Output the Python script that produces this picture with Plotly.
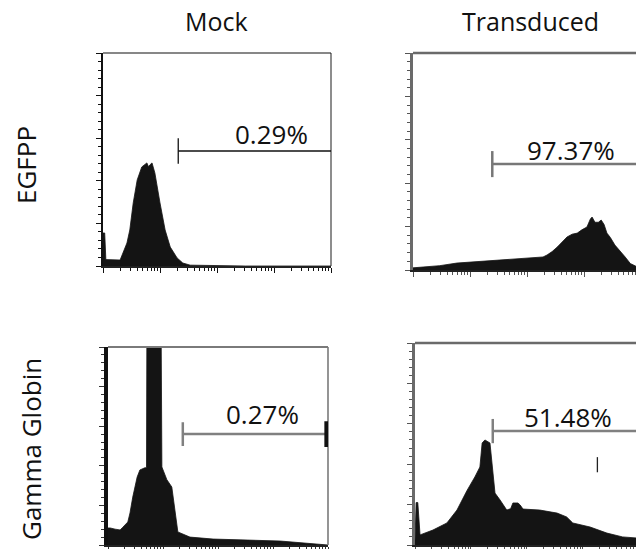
import math
import plotly.graph_objects as go

# ---------------- data (x in log decades of fluorescence, y relative counts) ----
col_titles = ["Mock", "Transduced"]
row_titles = ["EGFPP", "Gamma Globin"]

mock_egfp_x = [0.00, 0.03, 0.05, 0.30, 0.42, 0.47, 0.53, 0.60, 0.68, 0.77, 0.80, 0.82,
               0.86, 0.91, 1.00, 1.09, 1.18, 1.30, 1.40, 1.53, 2.50, 4.00]
mock_egfp_y = [15.5, 15.5, 3.0, 2.8, 10.8, 16.9, 29.6, 40.4, 46.5, 48.4, 46.5, 47.4,
               48.4, 43.7, 29.6, 16.9, 8.9, 3.8, 1.4, 0.4, 0.0, 0.0]

trans_egfp_x = [0.00, 0.47, 0.77, 1.18, 1.53, 1.88, 2.28, 2.35, 2.44, 2.53, 2.61, 2.70,
                2.79, 2.88, 2.96, 3.05, 3.11, 3.14, 3.19, 3.25, 3.30, 3.35, 3.40, 3.46,
                3.54, 3.63, 3.72, 3.81, 3.91, 4.00]
trans_egfp_y = [1.0, 2.0, 3.2, 4.0, 4.6, 5.5, 6.0, 6.9, 8.5, 10.6, 13.0, 15.2,
                16.5, 17.0, 18.5, 19.8, 23.5, 24.4, 22.0, 22.0, 23.0, 21.0, 17.0, 15.0,
                11.5, 9.0, 6.0, 3.0, 1.5, 0.5]

mock_gamma_x = [0.00, 0.04, 0.13, 0.22, 0.27, 0.36, 0.40, 0.45, 0.53, 0.58, 0.67, 0.70,
                0.71, 0.96, 0.98, 1.07, 1.16, 1.22, 1.27, 1.49, 1.91, 3.13, 4.00]
mock_gamma_y = [8.6, 8.6, 8.0, 7.6, 9.0, 11.6, 16.2, 24.2, 34.3, 37.9, 39.0, 39.0,
                140.0, 140.0, 39.4, 33.0, 29.3, 16.2, 6.6, 4.0, 3.0, 2.0, 0.0]

trans_gamma_x = [0.00, 0.02, 0.05, 0.08, 0.09, 0.32, 0.57, 0.75, 0.93, 1.07, 1.16, 1.20,
                 1.25, 1.34, 1.38, 1.43, 1.52, 1.64, 1.71, 1.75, 1.84, 1.88, 1.93, 2.23,
                 2.54, 2.71, 2.82, 3.13, 3.43, 3.71, 3.95, 4.00]
trans_gamma_y = [2.0, 21.0, 21.0, 5.0, 5.0, 7.4, 10.9, 17.3, 27.0, 33.7, 38.6, 50.5,
                 52.0, 50.5, 38.6, 25.7, 22.3, 17.3, 18.0, 20.8, 20.8, 19.8, 17.8, 17.3,
                 15.8, 13.9, 10.9, 8.9, 5.9, 4.0, 3.5, 3.0]

gate_labels = ["0.29%", "97.37%", "0.27%", "51.48%"]
gate_start = [1.32, 1.39, 1.36, 1.39]
gate_level = [54.0, 48.8, 56.0, 56.4]
label_pos = [2.96, 2.77, 2.80, 2.73]

# ---------------- layout geometry ----------------
W, H = 636, 549
def px_x(a, b):
    return [a / W, b / W]
def px_y(top, bottom):
    return [(H - bottom) / H, (H - top) / H]

panels = [
    dict(x=mock_egfp_x, y=mock_egfp_y, dom_x=px_x(103, 331), dom_y=px_y(53, 266),
         xr=[0, 4.0], line_col="#111111", lw=1.2, left_col="#111111", left_w=1.5,
         mirror_right=True, tick_col="#111111", gate_col="#111111", gate_w=1.3),
    dict(x=trans_egfp_x, y=trans_egfp_y, dom_x=px_x(413, 636), dom_y=px_y(53, 270),
         xr=[0, 3.91], line_col="#6a6a6a", lw=2.5, left_col="#6a6a6a", left_w=2.5,
         mirror_right=False, tick_col="#555555", gate_col="#777777", gate_w=2.5),
    dict(x=mock_gamma_x, y=mock_gamma_y, dom_x=px_x(108, 328), dom_y=px_y(347, 545),
         xr=[0, 4.0], line_col="#7a7a7a", lw=2.0, left_col="#111111", left_w=4,
         mirror_right=True, tick_col="#333333", gate_col="#808080", gate_w=2.5),
    dict(x=trans_gamma_x, y=trans_gamma_y, dom_x=px_x(415, 636), dom_y=px_y(343, 545),
         xr=[0, 3.95], line_col="#6a6a6a", lw=2.5, left_col="#6a6a6a", left_w=2.5,
         mirror_right=False, tick_col="#555555", gate_col="#808080", gate_w=2.5),
]

major_x = [0, 1, 2, 3, 4]
minor_x = [d + math.log10(k) for d in range(4) for k in range(2, 10)]

fig = go.Figure()
shapes = []
annotations = []
layout = dict(width=W, height=H, autosize=False, margin=dict(l=0, r=0, t=0, b=0),
              paper_bgcolor="white", plot_bgcolor="white", showlegend=False)

for i, p in enumerate(panels):
    n = "" if i == 0 else str(i + 1)
    xa, ya = "x" + n, "y" + n
    fig.add_trace(go.Scatter(x=p["x"], y=p["y"], mode="lines", fill="tozeroy",
                             fillcolor="#141414", line=dict(color="#141414", width=0.8),
                             xaxis=xa, yaxis=ya, hoverinfo="skip"))
    layout["xaxis" + n] = dict(domain=p["dom_x"], range=p["xr"], anchor=ya,
                               showgrid=False, zeroline=False, showticklabels=False,
                               showline=True, linecolor="#222222", linewidth=1.5,
                               mirror=False, ticks="outside", ticklen=5,
                               tickcolor=p["tick_col"], tickwidth=1.2,
                               tickmode="array", tickvals=major_x,
                               minor=dict(tickmode="array", tickvals=minor_x,
                                          ticks="outside", ticklen=3,
                                          tickcolor=p["tick_col"], tickwidth=1))
    layout["yaxis" + n] = dict(domain=p["dom_y"], range=[0, 100], anchor=xa,
                               showgrid=False, zeroline=False, showticklabels=False,
                               showline=True, linecolor=p["left_col"],
                               linewidth=p["left_w"], ticks="outside", ticklen=5,
                               tickcolor=p["tick_col"], tickwidth=1.2,
                               tickmode="linear", tick0=0, dtick=20,
                               minor=dict(ticks="outside", ticklen=3, dtick=4,
                                          tickcolor=p["tick_col"], tickwidth=1))
    # top border
    shapes.append(dict(type="line", xref=xa + " domain", yref=ya + " domain",
                       x0=0, x1=1, y0=1, y1=1,
                       line=dict(color=p["line_col"], width=p["lw"])))
    if p["mirror_right"]:
        shapes.append(dict(type="line", xref=xa + " domain", yref=ya + " domain",
                           x0=1, x1=1, y0=0, y1=1,
                           line=dict(color=p["line_col"], width=p["lw"] * 0.8)))
    # gate
    g0, gy = gate_start[i], gate_level[i]
    shapes.append(dict(type="line", xref=xa, yref=ya, x0=g0, x1=4.0, y0=gy, y1=gy,
                       line=dict(color=p["gate_col"], width=p["gate_w"])))
    shapes.append(dict(type="line", xref=xa, yref=ya, x0=g0, x1=g0, y0=gy - 6, y1=gy + 6,
                       line=dict(color=p["gate_col"], width=p["gate_w"])))
    yshift = [-3, -6, 0, -6][i]
    annotations.append(dict(text=gate_labels[i], xref=xa, yref=ya, x=label_pos[i], y=gy,
                            xanchor="center", yanchor="bottom", yshift=yshift,
                            showarrow=False,
                            font=dict(family="Open Sans", size=26, color="#111111")))

# right cap on mock gamma gate and small mark in transduced gamma panel
shapes.append(dict(type="line", xref="x3", yref="y3", x0=3.97, x1=3.97,
                   y0=gate_level[2] - 6.5, y1=gate_level[2] + 6.5,
                   line=dict(color="#111111", width=4)))
shapes.append(dict(type="line", xref="x4", yref="y4", x0=3.26, x1=3.26, y0=36, y1=43.5,
                   line=dict(color="#222222", width=1.3)))

# column and row titles
for txt, xc in zip(col_titles, [216, 530]):
    annotations.append(dict(text=txt, xref="paper", yref="paper", x=xc / W,
                            y=(H - 21) / H, xanchor="center", yanchor="middle",
                            showarrow=False,
                            font=dict(family="Open Sans", size=25, color="#111111")))
for txt, (xc, yc) in zip(row_titles, [(26, 165), (31, 449)]):
    annotations.append(dict(text=txt, xref="paper", yref="paper", x=xc / W,
                            y=(H - yc) / H, xanchor="center", yanchor="middle",
                            textangle=-90, showarrow=False,
                            font=dict(family="Open Sans", size=26, color="#111111")))

layout["shapes"] = shapes
layout["annotations"] = annotations
fig.update_layout(**layout)
fig.write_html("out.html")
